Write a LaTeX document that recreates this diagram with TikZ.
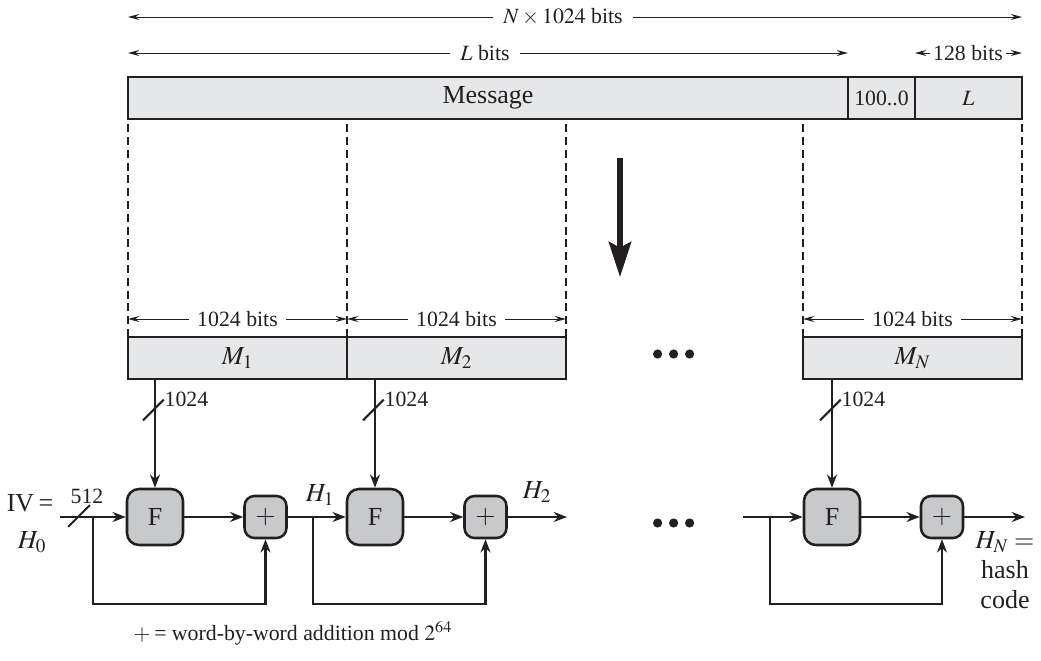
\documentclass[tikz,border=0pt]{standalone}
\usepackage{mathptmx}
\usepackage[no-math]{fontspec}
\setmainfont{Liberation Serif}
\usetikzlibrary{arrows.meta, calc, positioning}
\definecolor{barfill}{RGB}{230,231,232}
\definecolor{boxfill}{RGB}{200,201,203}
\definecolor{ink}{RGB}{35,31,32}
\newcommand{\lgfont}{\fontsize{18.5}{21.3}\selectfont}
\newcommand{\mdfont}{\fontsize{15.5}{18}\selectfont}
\tikzset{
  seg/.style     ={draw, fill=barfill, minimum height=1.05cm, inner sep=0pt, outer sep=0pt, line width=1.8pt, font=\lgfont},
  fbox/.style    ={draw, fill=boxfill, rounded corners=0.3cm, minimum size=1.4cm, inner sep=0pt, line width=1.8pt, font=\lgfont},
  addbox/.style  ={draw, fill=boxfill, rounded corners=0.25cm, minimum size=1.05cm, inner sep=0pt, line width=1.8pt, font=\lgfont},
  flow/.style    ={-{Stealth[length=3.3mm, width=2.5mm]}, line width=1.5pt},
  wire/.style    ={line width=1.5pt},
  dimline/.style ={-{Stealth[length=2.8mm, width=1.5mm]}, line width=0.7pt},
  cutline/.style ={line width=1.5pt, dash pattern=on 2mm off 1.2mm},
  bigarr/.style  ={-{Stealth[length=8.8mm, width=5.6mm, inset=1.5mm]}, line width=3.6pt},
  dimlbl/.style  ={font=\mdfont, inner xsep=2.5mm, inner ysep=1pt},
  bitlbl/.style  ={font=\mdfont, inner sep=1pt},
  txt/.style     ={font=\lgfont, inner sep=1pt},
}

\begin{document}
\begin{tikzpicture}[node distance=0pt, color=ink]
  \useasboundingbox (0,0) rectangle (26.025,-16.525);

  % message, padding, length
  \node[seg, minimum width=18cm] (msg) at (12.2,-2.45) {Message};
  \node[seg, minimum width=1.675cm, right=of msg, font=\mdfont] (pad) {100..0};
  \node[seg, minimum width=2.675cm, right=of pad, font=\mdfont] (len) {$L$};

  % lengths above the message
  \node[dimlbl] (nbits) at (14.075,-0.425) {$N\times 1024$ bits};
  \draw[dimline] (nbits.west) -- (nbits.west -| msg.west); \draw[dimline] (nbits.east) -- (nbits.east -| len.east);
  \node[dimlbl] (lbits) at (12.125,-1.325) {$L$ bits};
  \draw[dimline] (lbits.west) -- (lbits.west -| msg.west); \draw[dimline] (lbits.east) -- (lbits.east -| msg.east);
  \node[dimlbl, inner xsep=0.8mm] (tbits) at (24.2,-1.325) {128 bits};
  \draw[dimline] (tbits.west) -- (tbits.west -| len.west); \draw[dimline] (tbits.east) -- (tbits.east -| len.east);

  % blocks
  \node[seg, minimum width=5.475cm] (m1) at (5.9375,-8.95) {$M_1$};
  \node[seg, minimum width=5.475cm, right=of m1] (m2) {$M_2$};
  \node[seg, minimum width=5.475cm] (mn) at (22.8125,-8.95) {$M_N$};
  \foreach \b in {m1.north west, m1.north east, m2.north east, mn.north west, mn.north east}
    \draw[cutline] (\b) -- (\b |- msg.south);
  \foreach \m in {m1, m2, mn} {
    \node[dimlbl, inner xsep=2mm] (\m-bits) at ($(\m.north)+(0,0.45)$) {1024 bits};
    \draw[dimline] (\m-bits.west) -- (\m-bits.west -| \m.west); \draw[dimline] (\m-bits.east) -- (\m-bits.east -| \m.east);
  }

  \coordinate (down-top) at (15.5,-3.95); \coordinate (down-end) at (15.5,-6.925);
  \draw[bigarr] (down-top) -- (down-end);
  \foreach \y in {-8.85,-13.075} \foreach \dx in {-0.4,0,0.4} \fill (16.84+\dx,\y) circle (0.115);

  % compression chain
  \node[fbox] (f1) at (3.875,-12.925) {F};   \node[addbox] (a1) at (6.6375,-12.925) {$+$};
  \node[fbox] (f2) at (9.375,-12.925) {F};   \node[addbox] (a2) at (12.1375,-12.925) {$+$};
  \node[fbox] (fn) at (20.8,-12.925) {F};    \node[addbox] (an) at (23.55,-12.925) {$+$};

  \foreach \m/\f in {m1/f1, m2/f2, mn/fn} {
    \draw[flow] (\f |- \m.south) -- (\f);
    \coordinate (\f-bus) at ($(\f |- \m.south)+(0,-0.775)$);
    \draw[wire] ($(\f-bus)+(-0.3,-0.26)$) -- ($(\f-bus)+(0.22,0.26)$);
    \node[bitlbl, anchor=west] (\f-w) at ($(\f-bus)+(0.2,0.27)$) {1024};
  }

  \coordinate (iv) at (1.5,-12.925); \coordinate (iv-bus) at (1.975,-12.9);
  \draw[flow] (iv) -- (f1);
  \draw[wire] ($(iv-bus)+(-0.27,-0.27)$) -- ($(iv-bus)+(0.27,0.27)$);
  \node[bitlbl] (ivw) at (2.175,-12.4) {512};
  \node[txt] (ivl) at (0.75,-12.575) {IV\,=};
  \node[txt] (h0) at (0.8,-13.55) {$H_0$};

  \draw[flow] (f1) -- (a1); \draw[flow] (a1) -- (f2); \draw[flow] (f2) -- (a2);
  \coordinate (h2end) at (14.175,-12.925); \draw[flow] (a2) -- (h2end);
  \coordinate (hnin) at (18.575,-12.925); \draw[flow] (hnin) -- (fn); \draw[flow] (fn) -- (an);
  \coordinate (hnend) at (25.625,-12.925); \draw[flow] (an) -- (hnend);
  \node[txt] (h1) at (8.0,-12.375) {$H_1$};
  \node[txt] (h2) at (13.425,-12.3) {$H_2$};
  \node[txt, align=center] (hn) at (25.125,-14.26) {$H_N =$\\hash\\code};

  % feed-forward
  \coordinate (t1) at (2.325,-12.925); \coordinate (t2) at (7.825,-12.925); \coordinate (tn) at (19.25,-12.925);
  \draw[flow] (t1) -- ++(0,-2.175) -| (a1);
  \draw[flow] (t2) -- ++(0,-2.175) -| (a2);
  \draw[flow] (tn) -- ++(0,-2.175) -| (an);

  \node[bitlbl, anchor=west] (note) at (3.3,-15.825) {$+$\,= word-by-word addition mod $2^{64}$};
\end{tikzpicture}
\end{document}
